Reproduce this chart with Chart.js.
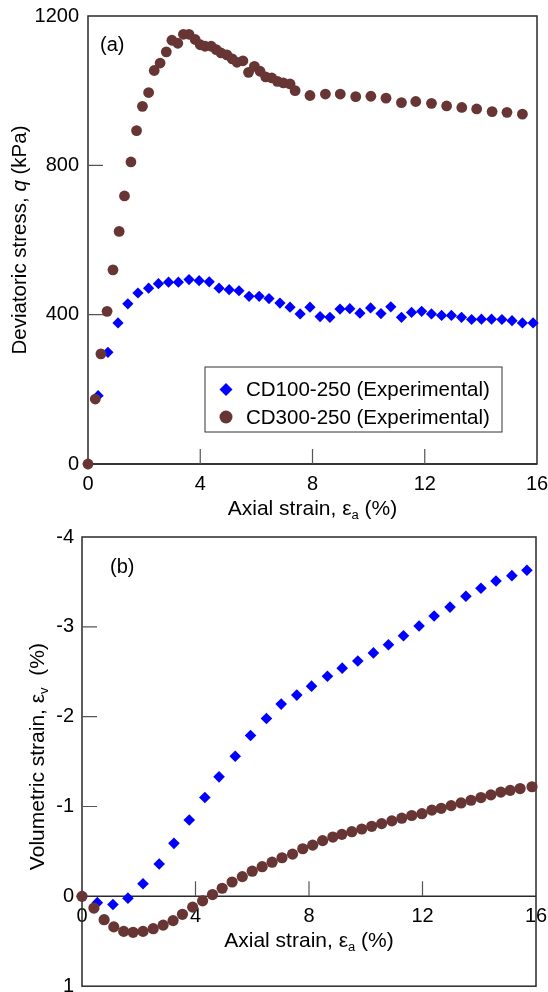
<!DOCTYPE html>
<html>
<head>
<meta charset="utf-8">
<script src="https://cdn.jsdelivr.net/npm/chart.js@4/dist/chart.umd.min.js"></script>
<style>
  body { margin: 0; background: #fff; }
  canvas { display: block; }
</style>
</head>
<body>
<canvas id="stressChart" width="548" height="522"></canvas>
<canvas id="volChart" width="548" height="470"></canvas>
<script>
// (a) deviatoric stress vs axial strain
const strainQ100 = [0, 0.36, 0.71, 1.07, 1.42, 1.78, 2.16, 2.51, 2.87, 3.22, 3.60, 3.96, 4.32, 4.67, 5.03,
  5.38, 5.74, 6.10, 6.45, 6.84, 7.20, 7.56, 7.91, 8.27, 8.62, 8.98, 9.33, 9.69, 10.07, 10.44,
  10.79, 11.17, 11.53, 11.89, 12.24, 12.60, 12.95, 13.31, 13.67, 14.02, 14.38, 14.75, 15.11, 15.48, 15.86];
const q100 = [0, 183, 299, 378, 429, 458, 471, 483, 487, 487, 494, 491, 488, 471, 467,
  464, 449, 449, 443, 431, 420, 402, 420, 395, 393, 415, 416, 404, 418, 403,
  421, 393, 406, 409, 402, 398, 398, 393, 387, 388, 388, 387, 384, 378, 378];
const strainQ300 = [0, 0.26, 0.46, 0.68, 0.89, 1.11, 1.30, 1.53, 1.73, 1.94, 2.16, 2.36, 2.57, 2.79, 2.99,
  3.20, 3.40, 3.60, 3.82, 4.00, 4.17, 4.39, 4.57, 4.74, 4.95, 5.14, 5.31, 5.52, 5.72, 5.93,
  6.13, 6.33, 6.55, 6.75, 6.96, 7.20, 7.38, 7.91, 8.46, 8.99, 9.54, 10.08, 10.62, 11.17, 11.68,
  12.24, 12.78, 13.32, 13.85, 14.40, 14.93, 15.48];
const q300 = [0, 174, 295, 409, 520, 623, 718, 809, 893, 958, 995, 1054, 1074, 1104, 1135,
  1127, 1151, 1151, 1137, 1123, 1119, 1119, 1110, 1101, 1096, 1085, 1076, 1080, 1049, 1065,
  1052, 1037, 1034, 1025, 1021, 1018, 1000, 987, 991, 991, 984, 985, 980, 968, 971,
  966, 959, 955, 951, 944, 942, 937];

// (b) volumetric strain vs axial strain
const strainV100 = [0, 0.54, 1.09, 1.62, 2.15, 2.72, 3.24, 3.78, 4.33, 4.83, 5.40, 5.94, 6.50, 7.02, 7.57,
  8.09, 8.65, 9.17, 9.72, 10.27, 10.80, 11.33, 11.88, 12.41, 12.97, 13.53, 14.06, 14.59, 15.15, 15.68];
const vol100 = [0, 0.07, 0.09, 0.02, -0.14, -0.36, -0.59, -0.85, -1.10, -1.33, -1.56, -1.79, -1.98, -2.14, -2.24,
  -2.34, -2.45, -2.54, -2.62, -2.71, -2.80, -2.90, -3.01, -3.12, -3.22, -3.34, -3.43, -3.51, -3.57, -3.63];
const strainV300 = [0, 0.42, 0.78, 1.12, 1.47, 1.80, 2.15, 2.51, 2.86, 3.21, 3.54, 3.90, 4.25, 4.60, 4.94,
  5.29, 5.65, 6.00, 6.35, 6.70, 7.05, 7.42, 7.78, 8.13, 8.48, 8.84, 9.16, 9.51, 9.86, 10.21,
  10.56, 10.92, 11.27, 11.62, 11.98, 12.33, 12.66, 13.01, 13.36, 13.71, 14.06, 14.41, 14.76, 15.09, 15.44, 15.86];
const vol300 = [0, 0.13, 0.26, 0.34, 0.39, 0.40, 0.39, 0.36, 0.32, 0.27, 0.20, 0.12, 0.05, -0.02, -0.09,
  -0.16, -0.22, -0.28, -0.33, -0.38, -0.43, -0.47, -0.53, -0.57, -0.62, -0.66, -0.69, -0.72, -0.75, -0.78,
  -0.81, -0.84, -0.87, -0.90, -0.92, -0.96, -0.98, -1.01, -1.04, -1.07, -1.10, -1.13, -1.16, -1.18, -1.20, -1.22];

const seriesNames = ['CD100-250 (Experimental)', 'CD300-250 (Experimental)'];
const innerXTicks = [4, 8, 12];
const innerQTicks = [400, 800];
const innerVolTicks = [-3, -2, -1];

const BLUE = '#0000ff';
const BROWN = '#683535';
const FONT = '"Liberation Sans", Arial, Helvetica, sans-serif';

Chart.defaults.font.family = FONT;
Chart.defaults.font.size = 20;
Chart.defaults.color = '#000';

const toPoints = (xs, ys) => xs.map((x, i) => ({ x: x, y: ys[i] }));
const plainLabel = v => String(v);
// keep chart area edges where we put them, labels may overhang
const noPad = s => { s.paddingLeft = 0; s.paddingRight = 0; s.paddingTop = 0; s.paddingBottom = 0; };

// draw text made of pieces (italic letters, subscripts), centred on x
function drawRich(ctx, segs, x, y, size) {
  const fontOf = s => (s.italic ? 'italic ' : '') + (s.sub ? size * 0.62 : size) + 'px ' + FONT;
  let w = 0;
  segs.forEach(s => { ctx.font = fontOf(s); w += ctx.measureText(s.t).width; });
  let cx = x - w / 2;
  ctx.textAlign = 'left';
  ctx.textBaseline = 'middle';
  segs.forEach(s => {
    ctx.font = fontOf(s);
    ctx.fillText(s.t, cx, y + (s.sub ? size * 0.3 : 0));
    cx += ctx.measureText(s.t).width;
  });
}

const decor = {
  id: 'decor',
  beforeDatasetsDraw(chart, args, o) {
    const { ctx, chartArea: a, scales } = chart;
    const baseY = o.xAxisAt === undefined ? a.bottom : scales.y.getPixelForValue(o.xAxisAt);
    ctx.save();
    ctx.strokeStyle = '#2a2a2a';
    ctx.lineWidth = 1.5;
    ctx.strokeRect(a.left, a.top, a.right - a.left, a.bottom - a.top);
    ctx.beginPath();
    ctx.moveTo(a.left, baseY);
    ctx.lineTo(a.right, baseY);
    ctx.stroke();
    ctx.strokeStyle = '#555';
    ctx.lineWidth = 1.2;
    ctx.beginPath();
    o.xTicks.forEach(v => {
      const px = scales.x.getPixelForValue(v);
      ctx.moveTo(px, baseY);
      ctx.lineTo(px, baseY - 15);
    });
    o.yTicks.forEach(v => {
      const py = scales.y.getPixelForValue(v);
      ctx.moveTo(a.left, py);
      ctx.lineTo(a.left + 15, py);
    });
    ctx.stroke();
    ctx.restore();
  },
  afterDraw(chart, args, o) {
    const { ctx, chartArea: a, scales } = chart;
    const baseY = o.xAxisAt === undefined ? a.bottom : scales.y.getPixelForValue(o.xAxisAt);
    ctx.save();
    ctx.fillStyle = '#000';
    drawRich(ctx, o.xTitle, (a.left + a.right) / 2, baseY + 45, 21);
    ctx.save();
    ctx.translate(o.yTitleX, (a.top + a.bottom) / 2 + o.yTitleDy);
    ctx.rotate(-Math.PI / 2);
    drawRich(ctx, o.yTitle, 0, 0, o.yTitleSize);
    ctx.restore();
    ctx.font = '20px ' + FONT;
    ctx.textAlign = 'left';
    ctx.textBaseline = 'middle';
    ctx.fillText(o.tag, a.left + o.tagDx, a.top + o.tagDy);

    if (o.legend) {
      const left = a.right - 332, top = a.bottom - 97;
      ctx.strokeStyle = '#333';
      ctx.lineWidth = 1;
      ctx.strokeRect(left, top, 297, 65);
      chart.data.datasets.forEach((ds, i) => {
        const y = top + 22.5 + i * 27.5;
        ctx.fillStyle = ds.backgroundColor;
        Chart.helpers.drawPoint(ctx, { pointStyle: ds.pointStyle, radius: 6.5, rotation: 0, borderWidth: 0 }, left + 21, y);
        ctx.fillStyle = '#000';
        ctx.font = '20.5px ' + FONT;
        ctx.textAlign = 'left';
        ctx.textBaseline = 'middle';
        ctx.fillText(ds.label, left + 41, y + 1);
      });
    }
    ctx.restore();
  }
};

const xTitle = [{ t: 'Axial strain, ' }, { t: 'ε' }, { t: 'a', sub: true }, { t: ' (%)' }];

new Chart(document.getElementById('stressChart'), {
  type: 'scatter',
  data: {
    datasets: [{
      label: seriesNames[0],
      data: toPoints(strainQ100, q100),
      order: 1,
      pointStyle: 'rectRot',
      pointRadius: 5.6,
      backgroundColor: BLUE,
      borderWidth: 0,
      clip: false
    }, {
      label: seriesNames[1],
      data: toPoints(strainQ300, q300),
      order: 0,
      pointStyle: 'circle',
      pointRadius: 5.4,
      backgroundColor: BROWN,
      borderWidth: 0,
      clip: false
    }]
  },
  options: {
    responsive: false,
    animation: false,
    layout: { padding: { top: 16, right: 11, bottom: 0, left: 0 } },
    plugins: {
      legend: { display: false },
      tooltip: { enabled: false },
      decor: {
        xTitle: xTitle,
        yTitle: [{ t: 'Deviatoric stress, ' }, { t: 'q', italic: true }, { t: ' (kPa)' }],
        yTitleX: 20, yTitleDy: 0, yTitleSize: 20.5,
        tag: '(a)', tagDx: 12, tagDy: 29,
        xTicks: innerXTicks,
        yTicks: innerQTicks,
        legend: true
      }
    },
    scales: {
      x: {
        type: 'linear', min: 0, max: 16,
        ticks: { stepSize: 4, padding: 8, callback: plainLabel },
        grid: { display: false, drawTicks: false },
        border: { display: false },
        afterFit: s => { noPad(s); s.height = 58; }
      },
      y: {
        min: 0, max: 1200,
        ticks: { stepSize: 400, padding: 9, callback: plainLabel },
        grid: { display: false, drawTicks: false },
        border: { display: false },
        afterFit: s => { noPad(s); s.width = 88; }
      }
    }
  },
  plugins: [decor]
});

new Chart(document.getElementById('volChart'), {
  type: 'scatter',
  data: {
    datasets: [{
      label: seriesNames[0],
      data: toPoints(strainV100, vol100),
      order: 1,
      pointStyle: 'rectRot',
      pointRadius: 5.8,
      backgroundColor: BLUE,
      borderWidth: 0,
      clip: false
    }, {
      label: seriesNames[1],
      data: toPoints(strainV300, vol300),
      order: 0,
      pointStyle: 'circle',
      pointRadius: 5.6,
      backgroundColor: BROWN,
      borderWidth: 0,
      clip: false
    }]
  },
  options: {
    responsive: false,
    animation: false,
    layout: { padding: { top: 15, right: 12, bottom: 5, left: 0 } },
    plugins: {
      legend: { display: false },
      tooltip: { enabled: false },
      decor: {
        xTitle: xTitle,
        yTitle: [{ t: 'Volumetric strain, ' }, { t: 'ε' }, { t: 'v', sub: true }, { t: '  (%)' }],
        yTitleX: 38, yTitleDy: -5, yTitleSize: 21,
        xAxisAt: 0,
        tag: '(b)', tagDx: 28, tagDy: 30,
        xTicks: innerXTicks,
        yTicks: innerVolTicks,
        legend: false
      }
    },
    scales: {
      x: {
        type: 'linear', min: 0, max: 16,
        position: { y: 0 },
        ticks: { stepSize: 4, padding: 8, callback: plainLabel },
        grid: { display: false, drawTicks: false },
        border: { display: false },
        afterFit: noPad
      },
      y: {
        min: -4, max: 1, reverse: true,
        ticks: { stepSize: 1, padding: 8, callback: plainLabel },
        grid: { display: false, drawTicks: false },
        border: { display: false },
        afterFit: s => { noPad(s); s.width = 82; }
      }
    }
  },
  plugins: [decor]
});
</script>
</body>
</html>
